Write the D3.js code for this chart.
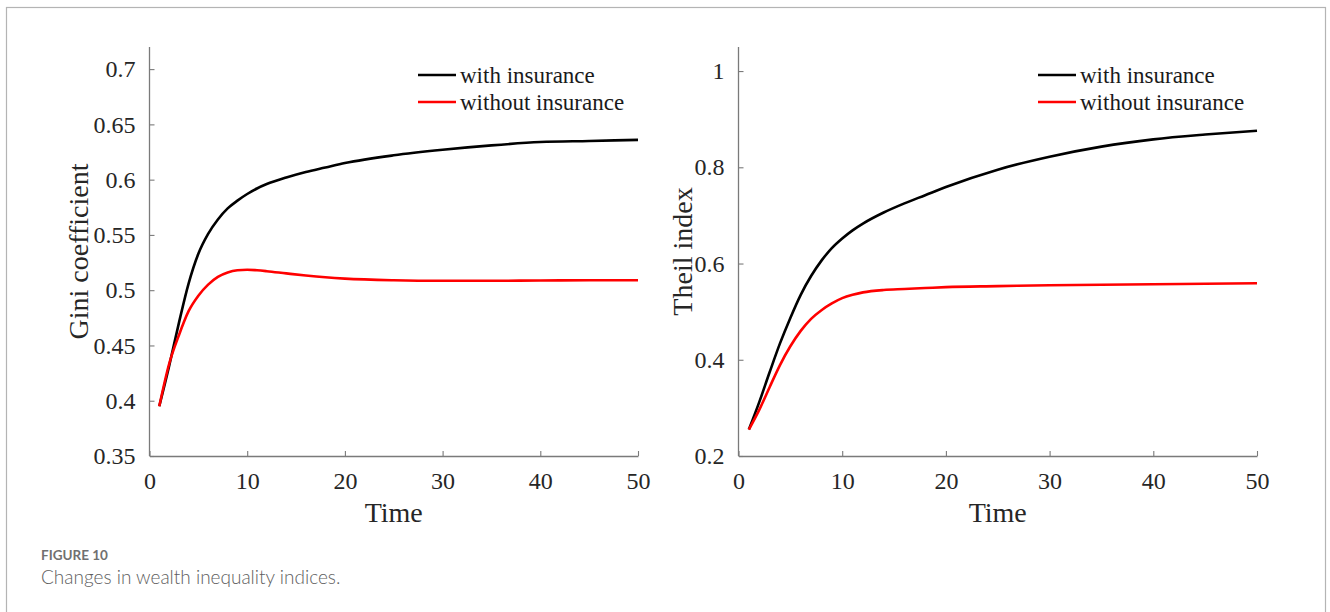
<!DOCTYPE html>
<html>
<head>
<meta charset="utf-8">
<script src="https://cdn.jsdelivr.net/npm/d3@7"></script>
<style>
  body { margin: 0; background: #fff; }
</style>
</head>
<body>
<script>
const time = [1, 2, 3, 4, 5, 6, 7, 8, 9, 10, 11, 12, 14, 16, 18, 20, 25, 30, 35, 40, 45, 50];

const giniWith    = [0.395, 0.431, 0.470, 0.506, 0.533, 0.551, 0.564, 0.574, 0.581, 0.587, 0.592, 0.596, 0.602, 0.607, 0.611, 0.615, 0.622, 0.627, 0.631, 0.634, 0.635, 0.636];
const giniWithout = [0.395, 0.433, 0.459, 0.481, 0.495, 0.505, 0.512, 0.516, 0.518, 0.5185, 0.518, 0.5172, 0.5152, 0.5133, 0.5117, 0.5105, 0.509, 0.5085, 0.5085, 0.5088, 0.509, 0.509];

const theilWith    = [0.255, 0.312, 0.374, 0.434, 0.487, 0.535, 0.574, 0.606, 0.632, 0.652, 0.669, 0.683, 0.706, 0.725, 0.742, 0.759, 0.795, 0.822, 0.843, 0.858, 0.868, 0.876];
const theilWithout = [0.255, 0.296, 0.343, 0.389, 0.428, 0.460, 0.485, 0.503, 0.517, 0.528, 0.535, 0.540, 0.545, 0.547, 0.549, 0.551, 0.553, 0.555, 0.556, 0.557, 0.558, 0.559];

const xTicks = [0, 10, 20, 30, 40, 50];
const giniTicks = [0.35, 0.4, 0.45, 0.5, 0.55, 0.6, 0.65, 0.7];
const theilTicks = [0.2, 0.4, 0.6, 0.8, 1];
const seriesNames = ['with insurance', 'without insurance'];
const seriesColors = ['#000000', '#ff0000'];

const width = 1330;
const height = 612;
const serif = '"Liberation Serif", "Times New Roman", serif';
const sans = 'Lato, "Open Sans", sans-serif';

const svg = d3.select('body')
  .append('svg')
  .attr('width', width)
  .attr('height', height);

// outer frame of the figure box
svg.append('rect')
  .attr('x', 6.5)
  .attr('y', 7.5)
  .attr('width', 1319)
  .attr('height', 640)
  .attr('fill', 'none')
  .attr('stroke', '#b4b4b4')
  .attr('stroke-width', 1.2);

const panels = [
  { left: 149.5, right: 638, yDomain: [0.35, 0.72], yTicks: giniTicks, label: 'Gini coefficient', labelX: 78,
    series: [giniWith, giniWithout], legendX: 418 },
  { left: 738.5, right: 1257, yDomain: [0.2, 1.05], yTicks: theilTicks, label: 'Theil index', labelX: 682,
    series: [theilWith, theilWithout], legendX: 1038 }
];

const plotTop = 47;
const plotBottom = 456;

panels.forEach(p => {
  const g = svg.append('g');

  const x = d3.scaleLinear().domain([0, 50]).range([p.left, p.right]);
  const y = d3.scaleLinear().domain(p.yDomain).range([plotBottom, plotTop]);

  const xAxis = g.append('g')
    .attr('transform', `translate(0,${plotBottom})`)
    .call(d3.axisBottom(x).tickValues(xTicks).tickSizeInner(-5).tickSizeOuter(0).tickPadding(16).tickFormat(d => d));

  const yAxis = g.append('g')
    .attr('transform', `translate(${p.left},0)`)
    .call(d3.axisLeft(y).tickValues(p.yTicks).tickSizeInner(-5).tickSizeOuter(0).tickPadding(14).tickFormat(d => d));

  [xAxis, yAxis].forEach(a => {
    a.attr('font-family', null).attr('font-size', null);
    a.select('.domain').attr('stroke', '#7a7a7a').attr('stroke-width', 1.3);
    a.selectAll('.tick line').attr('stroke', '#7a7a7a').attr('stroke-width', 1.1);
    a.selectAll('.tick text')
      .style('font-family', serif)
      .style('font-size', '24px')
      .style('fill', '#262626');
  });

  // y axis line runs up to the top of the plot area
  yAxis.select('.domain').attr('d', `M0,${plotBottom}V${plotTop}`);

  g.append('text')
    .attr('x', (p.left + p.right) / 2)
    .attr('y', 522)
    .attr('text-anchor', 'middle')
    .style('font-family', serif)
    .style('font-size', '28px')
    .style('fill', '#262626')
    .text('Time');

  g.append('text')
    .attr('transform', `translate(${p.labelX},${(plotTop + plotBottom) / 2}) rotate(-90)`)
    .attr('text-anchor', 'middle')
    .attr('dominant-baseline', 'central')
    .style('font-family', serif)
    .style('font-size', '28px')
    .style('fill', '#262626')
    .text(p.label);

  const line = d3.line()
    .x((d, i) => x(time[i]))
    .y(d => y(d))
    .curve(d3.curveMonotoneX);

  p.series.forEach((s, k) => {
    g.append('path')
      .datum(s)
      .attr('d', line)
      .attr('fill', 'none')
      .attr('stroke', seriesColors[k])
      .attr('stroke-width', 2.6)
      .attr('stroke-linejoin', 'round');
  });

  // legend
  seriesNames.forEach((name, k) => {
    const ly = 75 + k * 27;
    g.append('line')
      .attr('x1', p.legendX).attr('x2', p.legendX + 38)
      .attr('y1', ly).attr('y2', ly)
      .attr('stroke', seriesColors[k])
      .attr('stroke-width', 2.6);
    g.append('text')
      .attr('x', p.legendX + 42)
      .attr('y', ly)
      .attr('dominant-baseline', 'central')
      .style('font-family', serif)
      .style('font-size', '23px')
      .style('fill', '#1a1a1a')
      .text(name);
  });
});

// caption
svg.append('text')
  .attr('x', 41)
  .attr('y', 560)
  .style('font-family', sans)
  .style('font-size', '13.5px')
  .style('font-weight', 700)
  .style('fill', '#707070')
  .text('FIGURE 10');
svg.append('text')
  .attr('x', 41)
  .attr('y', 584)
  .style('font-family', sans)
  .style('font-size', '19px')
  .style('font-weight', 300)
  .style('fill', '#5e5e5e')
  .text('Changes in wealth inequality indices.');
</script>
</body>
</html>
